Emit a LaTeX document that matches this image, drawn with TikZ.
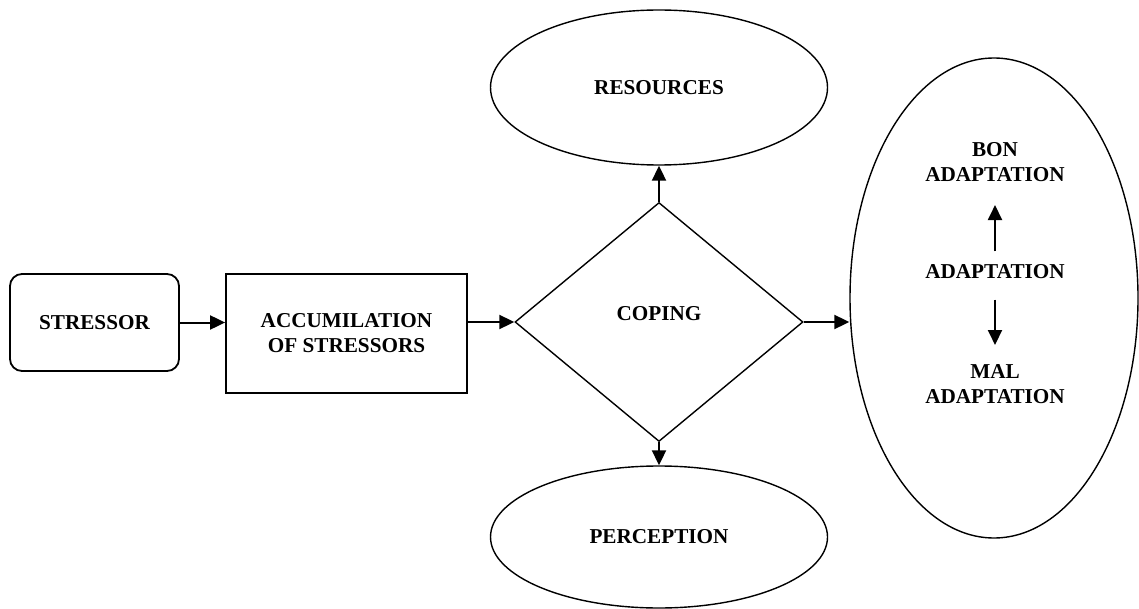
\documentclass[tikz,border=0pt]{standalone}
\usepackage{fontspec}
\setmainfont{Liberation Serif}
\usetikzlibrary{shapes.geometric,arrows.meta}

\begin{document}
\begin{tikzpicture}[x=0.5pt, y=-0.5pt, font=\fontsize{10.6}{12.5}\selectfont\bfseries,
    box/.style ={rectangle, draw, line width=0.9pt, inner sep=0pt, align=center},
    oval/.style ={ellipse, draw, line width=0.7pt, inner sep=0pt, align=center},
    flow/.style ={line width=1pt, -{Triangle[length=7.5pt,width=7pt]}}]
   \useasboundingbox (0,0) rectangle (1139,609);

   \node[box, rounded corners=6pt, minimum width=84.5pt, minimum height=48.5pt] (A) at (94.5,322.5) {STRESSOR};
   \node[box, minimum width=120.5pt, minimum height=59.5pt] (B) at (346.5,333.5) {ACCUMILATION\\OF STRESSORS};
   \node[diamond, draw, line width=0.7pt, inner sep=0pt, minimum width=144pt, minimum height=119.5pt] (C) at (659,322) {};
   \node (J) at (659,314) {COPING};
   \node[oval, minimum width=168.5pt, minimum height=77.5pt] (D) at (659,87.5) {RESOURCES};
   \node[oval, minimum width=168.5pt, minimum height=71pt] (E) at (659,537) {PERCEPTION};
   \node[oval, minimum width=144pt, minimum height=240pt] (F) at (994,298) {};
   \node[align=center, inner sep=0pt] (G) at (995,162) {BON\\ADAPTATION};
   \node[inner sep=0pt] (H) at (995,272) {ADAPTATION};
   \node[align=center, inner sep=0pt] (I) at (995,384) {MAL\\ADAPTATION};

   \draw[flow] (A.east) to (A.east -| B.west);
   \draw[flow] (C.west -| B.east) to (C.west);
   \draw[flow] (C.north) to (D.south);
   \draw[flow] (C.south) to (E.north);
   \draw[flow] (C.east) to (C.east -| F.west);

   \draw[flow, shorten <=6.5pt, shorten >=11.5pt] (H.north) to (G.south);
   \draw[flow, shorten <=10pt, shorten >=9.5pt] (H.south) to (I.north);
 \end{tikzpicture}
\end{document}
